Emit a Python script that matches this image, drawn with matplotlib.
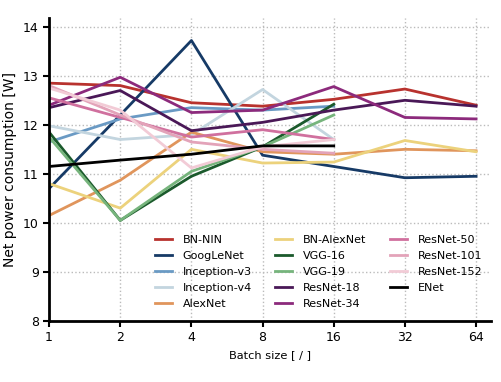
import numpy as np
import matplotlib
matplotlib.use("Agg")
import matplotlib.pyplot as plt

batch = [1, 2, 4, 8, 16, 32, 64]

names = ["BN-NIN", "GoogLeNet", "Inception-v3", "Inception-v4", "AlexNet",
         "BN-AlexNet", "VGG-16", "VGG-19", "ResNet-18", "ResNet-34",
         "ResNet-50", "ResNet-101", "ResNet-152", "ENet"]

bn_nin = [12.85, 12.8, 12.45, 12.38, 12.52, 12.73, 12.4]
googlenet = [10.7, 12.2, 13.72, 11.38, 11.15, 10.92, 10.95]
inception_v3 = [11.65, 12.12, 12.35, 12.3, 12.38]
inception_v4 = [11.98, 11.7, 11.8, 12.72, 11.7]
alexnet = [10.15, 10.87, 11.85, 11.45, 11.4, 11.5, 11.47]
bn_alexnet = [10.8, 10.3, 11.5, 11.22, 11.24, 11.68, 11.45]
vgg16 = [11.85, 10.05, 10.95, 11.55, 12.42]
vgg19 = [11.75, 10.05, 11.05, 11.55, 12.2]
resnet18 = [12.35, 12.7, 11.88, 12.05, 12.3, 12.5, 12.38]
resnet34 = [12.4, 12.97, 12.25, 12.3, 12.78, 12.15, 12.12]
resnet50 = [12.55, 12.15, 11.75, 11.9, 11.7]
resnet101 = [12.8, 12.2, 11.65, 11.5, 11.42]
resnet152 = [12.75, 12.3, 11.12, 11.55, 11.7]
enet = [11.15, 11.28, 11.4, 11.57, 11.57]

series = [bn_nin, googlenet, inception_v3, inception_v4, alexnet, bn_alexnet,
          vgg16, vgg19, resnet18, resnet34, resnet50, resnet101, resnet152, enet]

colors = ["#b8322e", "#163a66", "#6a9ac4", "#c3d5df", "#e0955c", "#ecd27c",
          "#1b5a2c", "#76b47c", "#4a1857", "#8c2a7c", "#d0709e", "#e3a3b9",
          "#f2cbd6", "#000000"]

fig = plt.figure(figsize=(5.01, 3.82), dpi=100)
ax = fig.add_axes([0.098, 0.16, 0.882, 0.793])

for name, vals, c in zip(names, series, colors):
    ax.plot(batch[:len(vals)], vals, color=c, lw=2, label=name)

ax.set_xscale("log", base=2)
ax.set_xticks(batch)
ax.set_xticklabels([str(b) for b in batch])
ax.minorticks_off()
ax.set_xlim(1, 74)
ax.set_ylim(8, 14.18)
ax.set_yticks(range(8, 15))
ax.grid(True, ls=":", color="#bbbbbb", lw=1)
for s in ["top", "right"]:
    ax.spines[s].set_visible(False)
for s in ["left", "bottom"]:
    ax.spines[s].set_linewidth(2)
ax.tick_params(labelsize=9, width=1.5, length=4)
ax.set_xlabel("Batch size [ / ]", fontsize=8.2)
ax.set_ylabel("Net power consumption [W]", fontsize=10)

ax.legend(ncol=3, frameon=False, fontsize=8, loc="lower left",
          bbox_to_anchor=(0.217, 0.005), handlelength=1.5, columnspacing=2.1,
          labelspacing=0.55, handletextpad=1.0)

fig.savefig("out.png", dpi=100)
